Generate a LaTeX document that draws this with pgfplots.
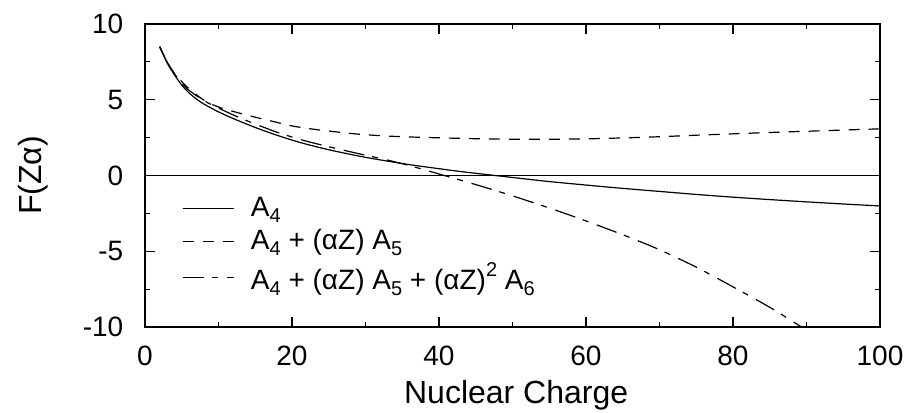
\documentclass[border=0pt]{standalone}
\usepackage{fontspec}
\setmainfont{Liberation Sans}
\usepackage{pgfplots}
\pgfplotsset{compat=1.18}

\newcommand\lsub[1]{\raisebox{-3.2pt}{\fontsize{10}{10}\selectfont #1}}
\newcommand\lsup[1]{\raisebox{6.5pt}{\fontsize{10}{10}\selectfont #1}}

\begin{document}
\fontsize{14}{16}\selectfont
\begin{tikzpicture}
\begin{axis}[
    scale only axis,
    width=367.5pt, height=151.5pt,
    xmin=0, xmax=100, ymin=-10, ymax=10,
    xtick={0,20,...,100}, ytick={-10,-5,...,10},
    minor x tick num=1, minor y tick num=1,
    tick align=inside,
    major tick length=5pt, minor tick length=2.5pt,
    axis line style={line width=0.75pt},
    tick style={line width=0.6pt, black},
    /pgf/number format/assume math mode=true,
    ticklabel style={font=\fontsize{14}{16}\selectfont},
    xticklabel style={yshift=-4.5pt},
    yticklabel style={xshift=-6pt},
    xlabel={Nuclear Charge},
    ylabel={F(Zα)},
    label style={font=\fontsize{16}{18}\selectfont},
    xlabel style={at={(axis description cs:0.505,-0.254)}, anchor=base},
    ylabel style={at={(axis description cs:-0.152,0.5)}, anchor=center},
    legend style={at={(axis description cs:0.05,0.44)}, anchor=north west,
        draw=none, fill=none, inner sep=0pt, row sep=1.3pt,
        nodes={inner sep=1.5pt},
        /tikz/every odd column/.append style={column sep=6.5pt},
        font=\fontsize{14}{16}\selectfont},
    legend cell align=left,
    legend image code/.code={%
        \draw[#1] (0pt,0pt) -- (25.8pt,0pt);},
]

% zero line
\addplot[black, line width=0.9pt, forget plot] coordinates {(0,0) (100,0)};

% A4
\addplot[black, line width=0.6pt, smooth] coordinates {
    (2,8.5) (3,7.45) (4,6.65) (5,5.97) (6,5.45) (7,5.05) (8,4.72)
    (10,4.2) (12,3.76) (14,3.36) (16,2.99) (18,2.65) (20,2.34) (22,2.06)
    (25,1.7) (28,1.39) (30,1.2) (32,1.03) (35,0.79) (38,0.58) (40,0.45)
    (42,0.32) (44,0.2) (46,0.09) (48,-0.02) (50,-0.13) (52,-0.24)
    (55,-0.4) (60,-0.63) (65,-0.85) (70,-1.05) (75,-1.25) (80,-1.43)
    (85,-1.59) (90,-1.74) (95,-1.88) (100,-2.01)
};
\addlegendentry{A\lsub{4}}

% A4 + (aZ) A5
\addplot[black, line width=0.6pt, smooth, dash pattern=on 5.5pt off 4.5pt] coordinates {
    (2,8.5) (3,7.5) (4,6.75) (5,6.2) (6,5.72) (8,4.98) (10,4.52)
    (12,4.23) (14,3.97) (16,3.73) (18,3.5) (20,3.27) (23,3.05) (26,2.88)
    (29,2.73) (32,2.63) (35,2.56) (39,2.5) (43,2.45) (47,2.41) (51,2.39)
    (55,2.39) (60,2.42) (65,2.48) (70,2.56) (75,2.66) (80,2.75) (85,2.84)
    (90,2.92) (95,3.0) (100,3.08)
};
\addlegendentry{A\lsub{4} + (αZ) A\lsub{5}}

% A4 + (aZ) A5 + (aZ)^2 A6
\addplot[black, line width=0.6pt, smooth, dash pattern=on 10.5pt off 4pt on 3pt off 4.5pt] coordinates {
    (2,8.5) (3,7.5) (4,6.72) (5,6.1) (6,5.62) (8,4.95) (10,4.45)
    (12,4.0) (14,3.59) (16,3.21) (18,2.85) (20,2.54) (22,2.26) (25,1.9)
    (28,1.56) (30,1.34) (32,1.13) (35,0.78) (38,0.38) (40,0.1) (42,-0.18)
    (45,-0.6) (48,-1.04) (51,-1.5) (54,-1.98) (57,-2.48) (60,-3.0)
    (63,-3.54) (66,-4.1) (70,-4.9) (75,-6.05) (80,-7.35) (85,-8.7)
    (89,-9.9) (91,-10.5)
};
\addlegendentry{A\lsub{4} + (αZ) A\lsub{5} + (αZ)\lsup{2} A\lsub{6}}

\end{axis}
\pgfresetboundingbox
\path ([xshift=-72.5pt,yshift=-43pt]current axis.south west)
    rectangle ([xshift=16pt,yshift=12pt]current axis.north east);
\end{tikzpicture}
\end{document}
